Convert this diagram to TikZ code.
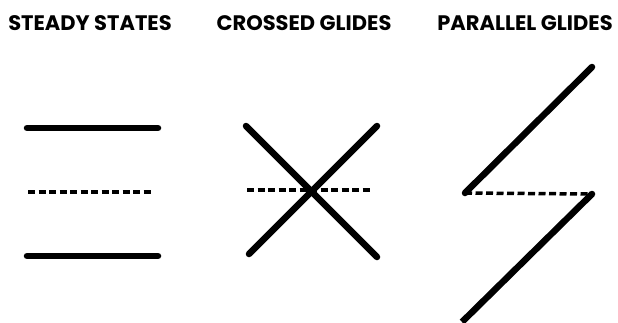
\documentclass[tikz,border=0pt]{standalone}
\usepackage{fontspec}
\setmainfont{Poppins}
\usetikzlibrary{positioning}
\colorlet{glideink}{black}

\begin{document}
\begin{tikzpicture}[x=1pt, y=-1pt,
    title/.style={font=\bfseries\fontsize{21}{24}\selectfont, inner sep=0pt, anchor=base},
    slip/.style={draw=glideink, line width=6.5pt, line cap=round},
    plane/.style={draw=glideink, line width=3.5pt, dash pattern=on 7pt off 3.5pt}]
  \useasboundingbox (0,0) rectangle (618,322);

  % column headings
  \node[title] (steady) at (90,30) {STEADY STATES};
  \node[title] (crossed) at (304,30) {CROSSED GLIDES};
  \node[title] (parallel) at (525,30) {PARALLEL GLIDES};

  % steady states: two layers and the plane between them
  \coordinate (s-top-l) at (27,128);  \coordinate (s-top-r) at (158,128);
  \coordinate (s-mid-l) at (28,192);  \coordinate (s-mid-r) at (153,192);
  \coordinate (s-bot-l) at (27,256);  \coordinate (s-bot-r) at (158,256);
  \draw[slip] (s-top-l) -- (s-top-r);
  \draw[plane] (s-mid-l) -- (s-mid-r);
  \draw[slip] (s-bot-l) -- (s-bot-r);

  % crossed glides
  \coordinate (c-nw) at (246,126);  \coordinate (c-se) at (377,257);
  \coordinate (c-ne) at (377,126);  \coordinate (c-sw) at (249,254);
  \coordinate (c-mid-l) at (247,190);  \coordinate (c-mid-r) at (370,190);
  \draw[plane] (c-mid-l) -- (c-mid-r);
  \draw[slip] (c-nw) -- (c-se);
  \draw[slip] (c-ne) -- (c-sw);

  % parallel glides
  \coordinate (p-top) at (592,67);
  \coordinate (p-kink-l) at (465,193);
  \coordinate (p-kink-r) at (592,194);
  \coordinate (p-bot) at (462,322);
  \draw[plane] (p-kink-l) -- (p-kink-r);
  \draw[slip] (p-top) -- (p-kink-l);
  \draw[slip, line cap=butt] (p-kink-r) -- (p-bot);
  \fill[glideink] (p-kink-r) circle (3.25pt);
\end{tikzpicture}
\end{document}
